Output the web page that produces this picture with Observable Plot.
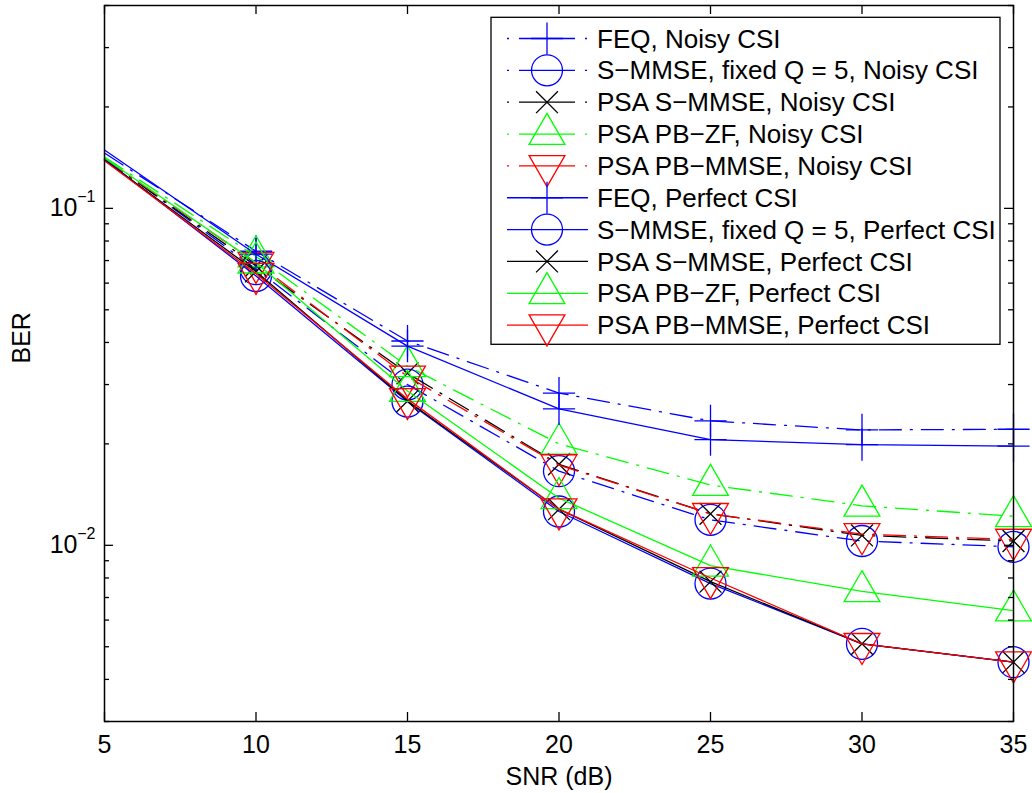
<!DOCTYPE html>
<html><head><meta charset="utf-8">
<script src="https://cdn.jsdelivr.net/npm/d3@7"></script>
<script src="https://cdn.jsdelivr.net/npm/@observablehq/plot@0.6"></script>
<style>
body{margin:0;background:#fff;}
#wrap{position:relative;width:1032px;height:793px;font-family:"Liberation Sans",Arial,sans-serif;}
#legend{position:absolute;left:0;top:0;pointer-events:none;}
</style></head><body><div id="wrap"></div>
<script>
// ---- data ----
const snr = [5, 10, 15, 20, 25, 30, 35];
const xTicks = [5, 10, 15, 20, 25, 30, 35];
const yMajor = [0.1, 0.01];
const yMajorBase = ["10", "10"];
const yMajorExp = ["\u22121", "\u22122"];
const yMinor = [0.003,0.004,0.005,0.006,0.007,0.008,0.009,0.02,0.03,0.04,0.05,0.06,0.07,0.08,0.09,0.2,0.3,0.4];

const seriesNames = [
  "FEQ, Noisy CSI",
  "S\u2212MMSE, fixed Q = 5, Noisy CSI",
  "PSA S\u2212MMSE, Noisy CSI",
  "PSA PB\u2212ZF, Noisy CSI",
  "PSA PB\u2212MMSE, Noisy CSI",
  "FEQ, Perfect CSI",
  "S\u2212MMSE, fixed Q = 5, Perfect CSI",
  "PSA S\u2212MMSE, Perfect CSI",
  "PSA PB\u2212ZF, Perfect CSI",
  "PSA PB\u2212MMSE, Perfect CSI"
];
const feqNoisy      = [0.146, 0.0746, 0.0404, 0.0283, 0.0234, 0.0220, 0.0221];
const smmseNoisy    = [0.141, 0.0660, 0.0300, 0.0166, 0.0119, 0.0103, 0.0099];
const psaNoisy      = [0.140, 0.0675, 0.0324, 0.0174, 0.0124, 0.0107, 0.0103];
const pbzfNoisy     = [0.142, 0.0720, 0.0340, 0.0200, 0.0151, 0.0131, 0.0122];
const pbmmseNoisy   = [0.140, 0.0690, 0.0317, 0.0173, 0.0124, 0.0108, 0.0104];
const feqPerfect    = [0.149, 0.0731, 0.0390, 0.0254, 0.0206, 0.0199, 0.0197];
const smmsePerfect  = [0.140, 0.0630, 0.0267, 0.0126, 0.0077, 0.0051, 0.0045];
const psaPerfect    = [0.139, 0.0650, 0.0268, 0.0128, 0.0078, 0.0051, 0.0045];
const pbzfPerfect   = [0.141, 0.0690, 0.0287, 0.0138, 0.0087, 0.0073, 0.0064];
const pbmmsePerfect = [0.1385,0.0640, 0.0272, 0.0128, 0.0080, 0.0051, 0.0045];

const seriesValues = [feqNoisy, smmseNoisy, psaNoisy, pbzfNoisy, pbmmseNoisy,
                      feqPerfect, smmsePerfect, psaPerfect, pbzfPerfect, pbmmsePerfect];
const seriesColors = ["#0000ff","#0000ff","#000000","#00ff00","#ff0000",
                      "#0000ff","#0000ff","#000000","#00ff00","#ff0000"];
const seriesSymbols = ["plus","circle","times","triangle","triangleDown",
                       "plus","circle","times","triangle","triangleDown"];
const seriesDashed = [true,true,true,true,true,false,false,false,false,false];

// ---- styling ----
const W = 1032, H = 793, mL = 104, mR = 19, mT = 5, mB = 72;
const fw = W - mL - mR, fh = H - mT - mB;
const FONT = "Liberation Sans, Arial, Helvetica, sans-serif";
const dashPat = "22,9,2,9";
const symR = {plus: 10.4, circle: 15.5, times: 10, triangle: 13.3, triangleDown: 13.3};
const symType = {plus: "plus", circle: "circle", times: "times", triangle: "triangle", triangleDown: "triangle"};

const marks = [];
seriesValues.forEach((vals, s) => {
  const rows = snr.map((x, i) => ({x, v: vals[i]}));
  const color = seriesColors[s];
  const sym = seriesSymbols[s];
  marks.push(Plot.line(rows, {x: "x", y: "v", stroke: color, strokeWidth: 1.3,
    strokeDasharray: seriesDashed[s] ? dashPat : null}));
  marks.push(Plot.dot(rows.filter(d => d.x > 5), {x: "x", y: "v", symbol: symType[sym], r: symR[sym],
    stroke: color, fill: "none", strokeWidth: 1.3, rotate: sym === "triangleDown" ? 180 : 0}));
});

const chart = Plot.plot({
  width: W, height: H,
  marginLeft: mL, marginRight: mR, marginTop: mT, marginBottom: mB,
  style: {fontFamily: FONT, fontSize: "25px", background: "white", overflow: "visible"},
  x: {domain: [5, 35], axis: null},
  y: {type: "log", domain: [0.003, 0.4], axis: null},
  marks: [
    ...marks,
    Plot.frame({stroke: "#000", strokeWidth: 1.5}),
    Plot.tickX(xTicks, {x: d => d, insetTop: fh - 9, stroke: "#000", strokeWidth: 1.3}),
    Plot.tickX(xTicks, {x: d => d, insetBottom: fh - 9, stroke: "#000", strokeWidth: 1.3}),
    Plot.tickY(yMajor, {y: d => d, insetRight: fw - 9, stroke: "#000", strokeWidth: 1.3}),
    Plot.tickY(yMajor, {y: d => d, insetLeft: fw - 9, stroke: "#000", strokeWidth: 1.3}),
    Plot.tickY(yMinor, {y: d => d, insetRight: fw - 5, stroke: "#000", strokeWidth: 1.3}),
    Plot.tickY(yMinor, {y: d => d, insetLeft: fw - 5, stroke: "#000", strokeWidth: 1.3}),
    Plot.text(xTicks, {x: d => d, text: d => String(d), frameAnchor: "bottom", lineAnchor: "top", dy: 14, fontSize: 25, fill: "#000"}),
    Plot.text(yMajor, {y: d => d, text: (d, i) => yMajorBase[i], frameAnchor: "left", textAnchor: "end", dx: -27, fontSize: 25, fill: "#000"}),
    Plot.text(yMajor, {y: d => d, text: (d, i) => yMajorExp[i], frameAnchor: "left", textAnchor: "end", dx: -9, dy: -11, fontSize: 16, fill: "#000"}),
    Plot.text(["SNR (dB)"], {frameAnchor: "bottom", lineAnchor: "top", dy: 46, fontSize: 25, fill: "#000"}),
    Plot.text(["BER"], {frameAnchor: "left", rotate: -90, dx: -83, fontSize: 25, fill: "#000"})
  ]
});
const wrap = document.getElementById("wrap");
wrap.appendChild(chart);

// ---- legend overlay ----
const lg = d3.select(wrap).append("svg").attr("id", "legend")
  .attr("width", W).attr("height", H).style("font-family", FONT);
const LX = 491, LY = 17.3, LW = 509, LH = 327;
lg.append("rect").attr("x", LX).attr("y", LY).attr("width", LW).attr("height", LH)
  .attr("fill", "white").attr("stroke", "#000").attr("stroke-width", 1.3);
const d3Sym = {plus: d3.symbolPlus, circle: d3.symbolCircle, times: d3.symbolTimes, triangle: d3.symbolTriangle, triangleDown: d3.symbolTriangle};
seriesNames.forEach((name, i) => {
  const cy = 38.5 + i * 31.85;
  const g = lg.append("g");
  g.append("line").attr("x1", 507).attr("x2", 588).attr("y1", cy).attr("y2", cy)
    .attr("stroke", seriesColors[i]).attr("stroke-width", 1.3)
    .attr("stroke-dasharray", seriesDashed[i] ? "2,10,56,10,2" : null);
  const sym = seriesSymbols[i];
  g.append("path").attr("d", d3.symbol(d3Sym[sym], Math.PI * symR[sym] * symR[sym])())
    .attr("transform", `translate(547,${cy})` + (sym === "triangleDown" ? " rotate(180)" : ""))
    .attr("fill", "none").attr("stroke", seriesColors[i]).attr("stroke-width", 1.3);
  g.append("text").attr("x", 597).attr("y", cy).attr("dy", "0.35em")
    .attr("font-size", 26).attr("fill", "#000").text(name);
});
</script>
</body></html>
